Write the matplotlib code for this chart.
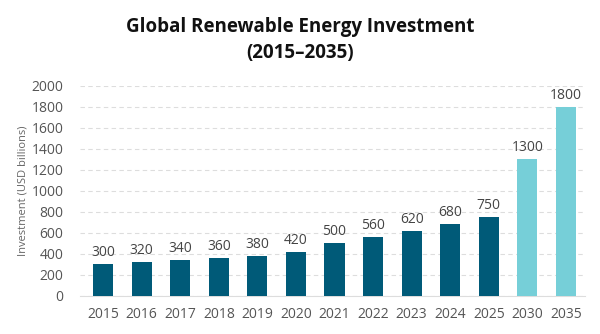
import matplotlib
matplotlib.use("Agg")
import matplotlib.pyplot as plt

years = ["2015", "2016", "2017", "2018", "2019", "2020", "2021", "2022",
         "2023", "2024", "2025", "2030", "2035"]
investment = [300, 320, 340, 360, 380, 420, 500, 560, 620, 680, 750, 1300, 1800]
projected = [False] * 11 + [True, True]

dark = "#005a78"
light = "#76cfd8"

plt.rcParams["font.family"] = ["Open Sans", "DejaVu Sans"]

fig = plt.figure(figsize=(6, 3.34), dpi=100)
ax = fig.add_axes([0.1333, 0.114, 0.842, 0.629])

x = range(len(years))
colors = [light if p else dark for p in projected]
bars = ax.bar(x, investment, width=0.52, color=colors, zorder=3)

for xi, v in zip(x, investment):
    ax.text(xi, v + 40, str(v), ha="center", va="bottom", fontsize=10, color="#444444")

ax.set_xlim(-0.6, 12.5)
ax.set_ylim(0, 2000)
ax.set_yticks(range(0, 2001, 200))
ax.set_xticks(list(x))
ax.set_xticklabels(years)
ax.tick_params(axis="both", length=0, labelsize=10, colors="#555555")
ax.tick_params(axis="x", pad=8)
ax.tick_params(axis="y", pad=12)
ax.yaxis.grid(True, linestyle=(0, (4, 3)), color="#dddddd", linewidth=0.8, zorder=0)
for s in ["top", "right", "left"]:
    ax.spines[s].set_visible(False)
ax.spines["bottom"].set_color("#dddddd")
ax.set_ylabel("Investment (USD billions)", fontsize=8, color="#666666", labelpad=2)

fig.text(0.5, 0.88, "Global Renewable Energy Investment\n(2015\u20132035)",
         ha="center", va="center", fontsize=13.5, fontweight="bold", color="#111111",
         linespacing=1.45)

fig.savefig("out.png", dpi=100)
